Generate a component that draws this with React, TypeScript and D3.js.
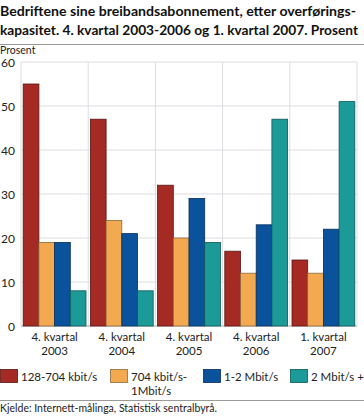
import React from "react";
import * as d3 from "d3";

const categories = [
  ["4. kvartal", "2003"],
  ["4. kvartal", "2004"],
  ["4. kvartal", "2005"],
  ["4. kvartal", "2006"],
  ["1. kvartal", "2007"],
];
const seriesNames = ["128-704 kbit/s", "704 kbit/s-\n1Mbit/s", "1-2 Mbit/s", "2 Mbit/s +"];
const s128 = [55, 47, 32, 17, 15];
const s704 = [19, 24, 20, 12, 12];
const s1to2 = [19, 21, 29, 23, 22];
const s2plus = [8, 8, 19, 47, 51];
const yTicks = [0, 10, 20, 30, 40, 50, 60];

const COLORS = ["#a52a24", "#f3a94f", "#0a529b", "#1b9a98"];
const STROKES = ["#5a1410", "#8a6a40", "#06305a", "#0e5756"];
const MARGINS = { top: 62, right: 7, bottom: 90, left: 21 };
const W = 364;
const H = 416;
const FONT = "Lato, 'DejaVu Sans', sans-serif";

const App = () => {
  const ref = React.useRef<SVGSVGElement>(null);

  React.useEffect(() => {
    const svg = d3.select(ref.current!);
    svg.selectAll("*").remove();
    const width = W - MARGINS.left - MARGINS.right;
    const height = H - MARGINS.top - MARGINS.bottom;
    const series = [s128, s704, s1to2, s2plus];

    // title
    const title = svg.append("g").attr("font-family", FONT).attr("font-weight", "bold").attr("font-size", 13.6).attr("fill", "#111");
    title.append("text").attr("x", 0).attr("y", 16).attr("textLength", 356).attr("lengthAdjust", "spacingAndGlyphs")
      .text("Bedriftene sine breibandsabonnement, etter overførings-");
    title.append("text").attr("x", 0).attr("y", 35).attr("textLength", 358).attr("lengthAdjust", "spacingAndGlyphs")
      .text("kapasitet. 4. kvartal 2003-2006 og 1. kvartal 2007. Prosent");
    svg.append("line").attr("x1", 0).attr("x2", W).attr("y1", 44.5).attr("y2", 44.5).attr("stroke", "#999");
    svg.append("text").attr("x", 0).attr("y", 54).attr("font-family", FONT).attr("font-size", 10.5).attr("fill", "#222").text("Prosent");

    const g = svg.append("g").attr("transform", `translate(${MARGINS.left}, ${MARGINS.top})`);

    const x0 = d3.scaleBand<number>().domain(d3.range(categories.length)).range([0, width]).paddingInner(0).paddingOuter(0);
    const x1 = d3.scaleBand<number>().domain(d3.range(series.length)).range([0, x0.bandwidth()]).paddingOuter(0.14).paddingInner(0);
    const y = d3.scaleLinear().domain([0, 60]).range([height, 0]);

    // grid
    g.selectAll("line.hgrid").data(yTicks).enter().append("line")
      .attr("x1", 0).attr("x2", width)
      .attr("y1", (d) => y(d)).attr("y2", (d) => y(d))
      .attr("stroke", "#dcdde2").attr("stroke-width", 1);
    g.selectAll("line.vgrid").data(d3.range(categories.length + 1)).enter().append("line")
      .attr("x1", (i) => (i < categories.length ? x0(i)! : width))
      .attr("x2", (i) => (i < categories.length ? x0(i)! : width))
      .attr("y1", 0).attr("y2", height)
      .attr("stroke", "#dcdde2").attr("stroke-width", 1);
    g.append("line").attr("x1", 0).attr("x2", width).attr("y1", height).attr("y2", height).attr("stroke", "#c8c9ce").attr("stroke-width", 1.5);

    // bars
    series.forEach((vals, s) => {
      g.selectAll(`rect.s${s}`).data(vals).enter().append("rect")
        .attr("x", (_, i) => x0(i)! + x1(s)!)
        .attr("y", (d) => y(d))
        .attr("width", x1.bandwidth())
        .attr("height", (d) => height - y(d))
        .attr("fill", COLORS[s])
        .attr("stroke", STROKES[s])
        .attr("stroke-width", 0.8);
    });

    // y tick labels
    g.selectAll("text.ytick").data(yTicks).enter().append("text")
      .attr("x", -6).attr("y", (d) => y(d) + 4.5)
      .attr("text-anchor", "end").attr("font-family", FONT).attr("font-size", 12).attr("fill", "#222")
      .text((d) => d);

    // x labels
    categories.forEach((lines, i) => {
      lines.forEach((t, j) => {
        g.append("text")
          .attr("x", x0(i)! + x0.bandwidth() / 2)
          .attr("y", height + 15 + j * 14)
          .attr("text-anchor", "middle").attr("font-family", FONT).attr("font-size", 11.5).attr("fill", "#222")
          .text(t);
      });
    });

    // legend
    const legendX = [0, 110, 203, 290];
    const lg = svg.append("g").attr("font-family", FONT).attr("font-size", 11.5).attr("fill", "#222");
    seriesNames.forEach((name, s) => {
      lg.append("rect").attr("x", legendX[s] + 0.5).attr("y", 369.5).attr("width", 17).attr("height", 13)
        .attr("fill", COLORS[s]).attr("stroke", STROKES[s]).attr("stroke-width", 0.8);
      name.split("\n").forEach((t, j) => {
        lg.append("text").attr("x", legendX[s] + 21).attr("y", 381 + j * 14).text(t);
      });
    });

    svg.append("line").attr("x1", 0).attr("x2", W).attr("y1", 400.5).attr("y2", 400.5).attr("stroke", "#999");
    svg.append("text").attr("x", 0).attr("y", 412).attr("font-family", FONT).attr("font-size", 10.5).attr("fill", "#222")
      .text("Kjelde: Internett-målinga, Statistisk sentralbyrå.");
  }, []);

  return <svg ref={ref} width={W} height={H} style={{ display: "block", position: "absolute", left: 0, top: 0, background: "#fff" }} />;
};

export default App;
